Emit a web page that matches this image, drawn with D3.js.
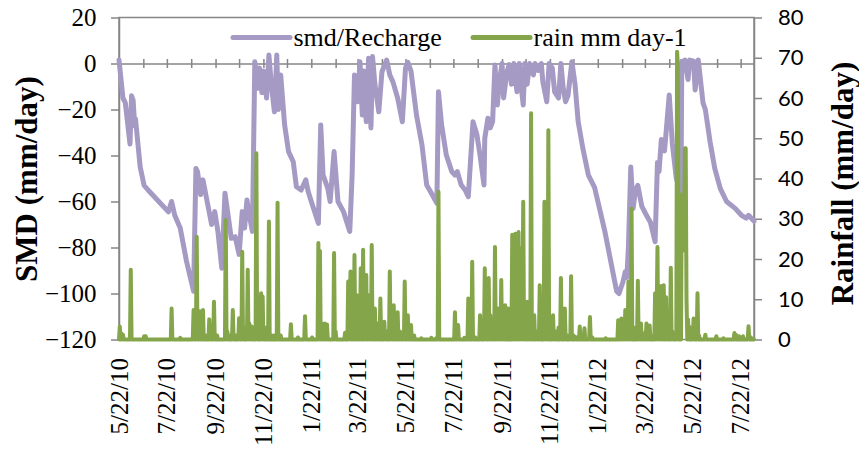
<!DOCTYPE html>
<html>
<head>
<meta charset="utf-8">
<script src="https://cdnjs.cloudflare.com/ajax/libs/d3/7.8.5/d3.min.js"></script>
<style>
  body { margin: 0; background: #fff; }
  #chart { width: 859px; height: 449px; }
</style>
</head>
<body>
<div id="chart"></div>
<script>
// x range of the record
const startDate = "5/22/10";
const endDate = "8/8/12";
const dateLabels = ["5/22/10", "7/22/10", "9/22/10", "11/22/10", "1/22/11", "3/22/11", "5/22/11",
    "7/22/11", "9/22/11", "11/22/11", "1/22/12", "3/22/12", "5/22/12", "7/22/12"];

const smdTicks = [20, 0, -20, -40, -60, -80, -100, -120];
const rainTicks = [0, 10, 20, 30, 40, 50, 60, 70, 80];

// smd/Recharge line, days since 5/22/10 and value (mm/day)
const smdDays = [0, 5, 8, 11, 14, 16, 18, 20, 21, 27, 32, 37, 48, 63, 67, 71, 78, 86, 95, 98,
    100, 104, 107, 114, 118, 122, 126, 131, 135, 139, 143, 148, 153, 157, 160, 163, 166, 170, 173, 177,
    179, 182, 184, 188, 191, 194, 198, 201, 203, 206, 211, 216, 222, 226, 232, 238, 241, 245, 254, 257,
    260, 266, 269, 274, 279, 286, 294, 297, 300, 304, 307, 310, 312, 315, 318, 321, 323, 326, 331, 335,
    341, 345, 349, 355, 361, 365, 368, 372, 379, 386, 392, 398, 405, 407, 411, 417, 424, 428, 431, 436,
    441, 445, 447, 451, 456, 460, 465, 466, 470, 473, 476, 479, 482, 485, 488, 490, 494, 497, 500, 503,
    507, 510, 512, 515, 517, 520, 523, 528, 530, 534, 538, 540, 545, 548, 552, 555, 560, 563, 566, 569,
    572, 577, 581, 585, 591, 598, 606, 619, 634, 637, 642, 645, 647, 649, 652, 655, 658, 661, 666, 672,
    677, 683, 686, 688, 691, 695, 697, 701, 705, 710, 716, 717, 719, 721, 725, 727, 732, 734, 738, 744,
    747, 753, 759, 766, 774, 785, 793, 799, 802, 809];
const smdValues = [1.5, -15, -17, -26, -35, -14, -16, -27, -24, -45, -53, -55, -59, -64.5, -60, -66, -71.5, -86, -99, -45.6,
    -47, -57, -50.6, -63, -70, -64.4, -73, -89, -56.4, -66, -76, -75.3, -83, -64.4, -71.5, -59.3, -66, -73, 0.8, -10.8,
    -2, -12.6, -3.3, -15, 3.7, -9, -21, 3.7, -20, -5, -26.7, -38.3, -42.7, -53.6, -55, -50.6, -55.7, -60, -69.5, -26.7,
    -48.5, -54.3, -60, -38.3, -60, -64.4, -73, -48.5, -5, -16.6, 0.8, -22.4, -3.3, -25.3, 2.3, -28, 3, -9, -21, -3.6,
    1.5, -5, -8, -15, -25.3, -2, 0.5, -3.3, -22.4, -35.4, -52.8, -56.4, -60.8, -12.3, -26.7, -39.8, -47, -48.5, -47, -52.8,
    -55, -57.9, -47, -25.3, -31, -40, -52.8, -32.5, -23.8, -28, -25.3, -0.6, -18, -6.7, 0, -15, -4, -0.5, -9, 0,
    -12.3, 0, -9, -18, 0, -9, 0, -5, 0, -3, 0, -8, -16.6, 0, -2, -12.3, -15, 0, -11, -16.6,
    -14, 0.8, -9, -25.3, -37, -48.5, -54, -73, -99, -100, -95, -90.6, -93, -80, -45, -63, -55, -53, -62, -66,
    -69, -77.5, -43, -47, -33, -38, -30, -13.7, -35, -50, -56, 1, -3, 1.5, -7, 1.5, 1, -11.5, 1.5, -17,
    -20, -34, -45.6, -54.3, -60, -63, -66, -67.2, -66, -68.5];

// rain mm day-1, wet days only (days since 5/22/10)
const rainDays = [1, 3, 5, 15, 32, 34, 67, 78, 95, 99, 101, 103, 107, 110, 115, 121, 125, 136, 138, 141,
    145, 149, 153, 157, 160, 164, 166, 169, 175, 177, 181, 183, 186, 191, 194, 197, 202, 206, 219, 228,
    237, 246, 254, 256, 258, 262, 265, 274, 276, 288, 290, 292, 294, 295, 297, 300, 303, 305, 308, 311,
    313, 315, 318, 320, 322, 326, 329, 333, 335, 338, 341, 345, 347, 350, 355, 358, 364, 368, 372, 376,
    385, 398, 404, 407, 428, 432, 440, 445, 450, 454, 460, 466, 468, 471, 473, 476, 479, 481, 483, 485,
    487, 489, 492, 494, 496, 498, 501, 503, 505, 507, 509, 511, 512, 514, 515, 517, 520, 522, 525, 527,
    529, 532, 536, 538, 540, 542, 544, 547, 549, 553, 556, 560, 563, 565, 568, 571, 576, 579, 582, 587,
    593, 600, 603, 620, 636, 638, 640, 643, 645, 647, 649, 651, 653, 656, 658, 661, 663, 665, 668, 672,
    676, 680, 683, 685, 686, 688, 689, 691, 694, 697, 699, 703, 705, 708, 711, 712, 717, 718, 719, 720,
    721, 722, 723, 725, 728, 732, 737, 739, 747, 761, 770, 784, 786, 790, 795, 802, 805];
const rainValues = [3.2, 1.5, 1.2, 17.3, 0.8, 0.8, 7.7, 0.4, 7.3, 25.5, 3, 7, 7.3, 1, 5, 9.4, 1, 29.7, 2, 1,
    7.3, 1, 5.3, 21.8, 3, 17.3, 4, 3.2, 46.3, 2, 11.5, 10.7, 3, 29.3, 1, 1, 34, 1, 3.8, 0.5,
    5.8, 0.5, 24, 22, 4, 4, 3.7, 21.5, 2, 1.7, 1, 14.4, 10, 16.9, 12, 21, 11, 6, 17.7, 22.3,
    9, 16, 11, 6, 23.5, 7.7, 4, 10.2, 3, 4.4, 2, 16.9, 5, 8.5, 6.8, 2, 14.4, 6, 3.6, 1,
    0.3, 0.4, 0.3, 36.7, 6.8, 3.6, 0.4, 10.2, 19.3, 0.5, 6, 17.7, 8, 15.3, 6, 4, 23, 6, 7.7, 5,
    14.8, 6, 8.5, 3, 7.7, 3, 26, 10, 26.3, 12, 26.7, 10, 22.6, 8, 34.2, 5, 9.4, 4, 56.2, 3,
    6, 2, 13.5, 3, 6, 34.2, 4, 52, 3, 6, 2, 3, 15.3, 3, 7.7, 1, 15.7, 1, 0.6, 3.2,
    2.8, 5.6, 0.5, 0.3, 4.8, 3, 5.2, 2, 7.3, 4, 14.4, 6, 32.5, 1, 3, 14.6, 4, 4, 1.5, 4,
    3.5, 1, 11.5, 6, 23, 4, 11, 13.3, 13.5, 10.5, 5, 17.8, 2, 1, 71.5, 68, 36, 22, 36, 30,
    47.5, 47.5, 10, 5, 3, 5.2, 11.5, 1, 1.2, 0.8, 0.3, 1.6, 1.2, 0.8, 0.8, 3.3, 0.5];

const smdColor = "#a49ac4";
const rainColor = "#84a54a";
const axisColor = "#868686";

const width = 859, height = 449;
const plot = { left: 119, right: 754, top: 17.5, bottom: 339.5 };

const parseDate = d3.timeParse("%m/%d/%y");
const start = parseDate(startDate);
const end = parseDate(endDate);
const dayToDate = d => d3.timeDay.offset(start, d);

const x = d3.scaleTime().domain([start, end]).range([plot.left, plot.right]);
const ySmd = d3.scaleLinear().domain([-120, 20]).range([plot.bottom, plot.top]);
const yRain = d3.scaleLinear().domain([0, 80]).range([plot.bottom, plot.top]);

const svg = d3.select("#chart").append("svg")
    .attr("width", width)
    .attr("height", height)
    .style("font-family", "'Liberation Serif', 'Times New Roman', serif");

// plot frame
svg.append("rect")
    .attr("x", plot.left)
    .attr("y", plot.top)
    .attr("width", plot.right - plot.left)
    .attr("height", plot.bottom - plot.top)
    .attr("fill", "none")
    .attr("stroke", axisColor)
    .attr("stroke-width", 1.5);

// left axis
const leftAxis = svg.append("g")
    .attr("transform", "translate(" + plot.left + ",0)")
    .call(d3.axisLeft(ySmd).tickValues(smdTicks).tickSize(8).tickSizeOuter(0).tickPadding(14.5));
leftAxis.selectAll("text")
    .style("font-size", "25px")
    .style("font-family", "'Liberation Serif', serif")
    .attr("fill", "#000");

// right axis
const rightAxis = svg.append("g")
    .attr("transform", "translate(" + plot.right + ",0)")
    .call(d3.axisRight(yRain).tickValues(rainTicks).tickSize(8).tickSizeOuter(0).tickPadding(16));
rightAxis.selectAll("text")
    .style("font-size", "22px")
    .style("font-family", "Lato, 'Liberation Sans', sans-serif")
    .attr("fill", "#000");

[leftAxis, rightAxis].forEach(function (g) {
    g.selectAll("path, line").attr("stroke", axisColor).attr("stroke-width", 1.5);
});

// date axis sits on the zero line, monthly ticks crossing it
var months = [];
for (var i = 0; d3.timeMonth.offset(start, i) <= end; i++) {
    months.push(d3.timeMonth.offset(start, i));
}
const zeroAxis = svg.append("g")
    .attr("transform", "translate(0," + ySmd(0) + ")")
    .call(d3.axisBottom(x).tickValues(months).tickSize(4.5).tickSizeOuter(0).tickFormat(""));
zeroAxis.selectAll("line").attr("y1", -4.5);
zeroAxis.selectAll("path, line").attr("stroke", axisColor).attr("stroke-width", 1.5);

// rotated date labels under the plot
svg.append("g")
    .selectAll("text")
    .data(dateLabels)
    .enter().append("text")
    .attr("transform", function (d) {
        return "translate(" + (x(parseDate(d)) + 8.5) + "," + (plot.bottom + 18.5) + ") rotate(-90)";
    })
    .attr("text-anchor", "end")
    .style("font-size", "25px")
    .text(function (d) { return d; });

// smd line
const smdLine = d3.line()
    .x(function (d) { return x(dayToDate(d[0])); })
    .y(function (d) { return ySmd(d[1]); });

svg.append("path")
    .datum(smdDays.map(function (d, i) { return [d, smdValues[i]]; }))
    .attr("d", smdLine)
    .attr("fill", "none")
    .attr("stroke", smdColor)
    .attr("stroke-width", 5)
    .attr("stroke-linejoin", "round")
    .attr("stroke-linecap", "round");

// rain line, one point per day (dry days are 0)
const totalDays = d3.timeDay.count(start, end);
const rainByDay = new Map(rainDays.map(function (d, i) { return [d, rainValues[i]]; }));
const rainSeries = d3.range(0, totalDays + 1).map(function (d) {
    return [d, rainByDay.get(d) || 0];
});

const rainLine = d3.line()
    .x(function (d) { return x(dayToDate(d[0])); })
    .y(function (d) { return yRain(d[1]); });

svg.append("path")
    .datum(rainSeries)
    .attr("d", rainLine)
    .attr("fill", "none")
    .attr("stroke", rainColor)
    .attr("stroke-width", 4)
    .attr("stroke-linejoin", "round")
    .attr("stroke-linecap", "round");

// axis titles
svg.append("text")
    .attr("transform", "translate(37,179) rotate(-90)")
    .attr("text-anchor", "middle")
    .style("font-size", "31px")
    .style("font-weight", "bold")
    .text("SMD (mm/day)");

svg.append("text")
    .attr("transform", "translate(853,183.5) rotate(-90)")
    .attr("text-anchor", "middle")
    .style("font-size", "31px")
    .style("font-weight", "bold")
    .text("Rainfall (mm/day)");

// legend
const legend = [
    { label: "smd/Recharge", color: smdColor, x0: 233, x1: 290 },
    { label: "rain mm day-1", color: rainColor, x0: 473, x1: 530 }
];
const lg = svg.append("g").selectAll("g")
    .data(legend)
    .enter().append("g");
lg.append("line")
    .attr("x1", function (d) { return d.x0; })
    .attr("x2", function (d) { return d.x1; })
    .attr("y1", 37.5)
    .attr("y2", 37.5)
    .attr("stroke", function (d) { return d.color; })
    .attr("stroke-width", 5)
    .attr("stroke-linecap", "round");
lg.append("text")
    .attr("x", function (d) { return d.x1 + 3.5; })
    .attr("y", 46)
    .style("font-size", "26px")
    .text(function (d) { return d.label; });
</script>
</body>
</html>
